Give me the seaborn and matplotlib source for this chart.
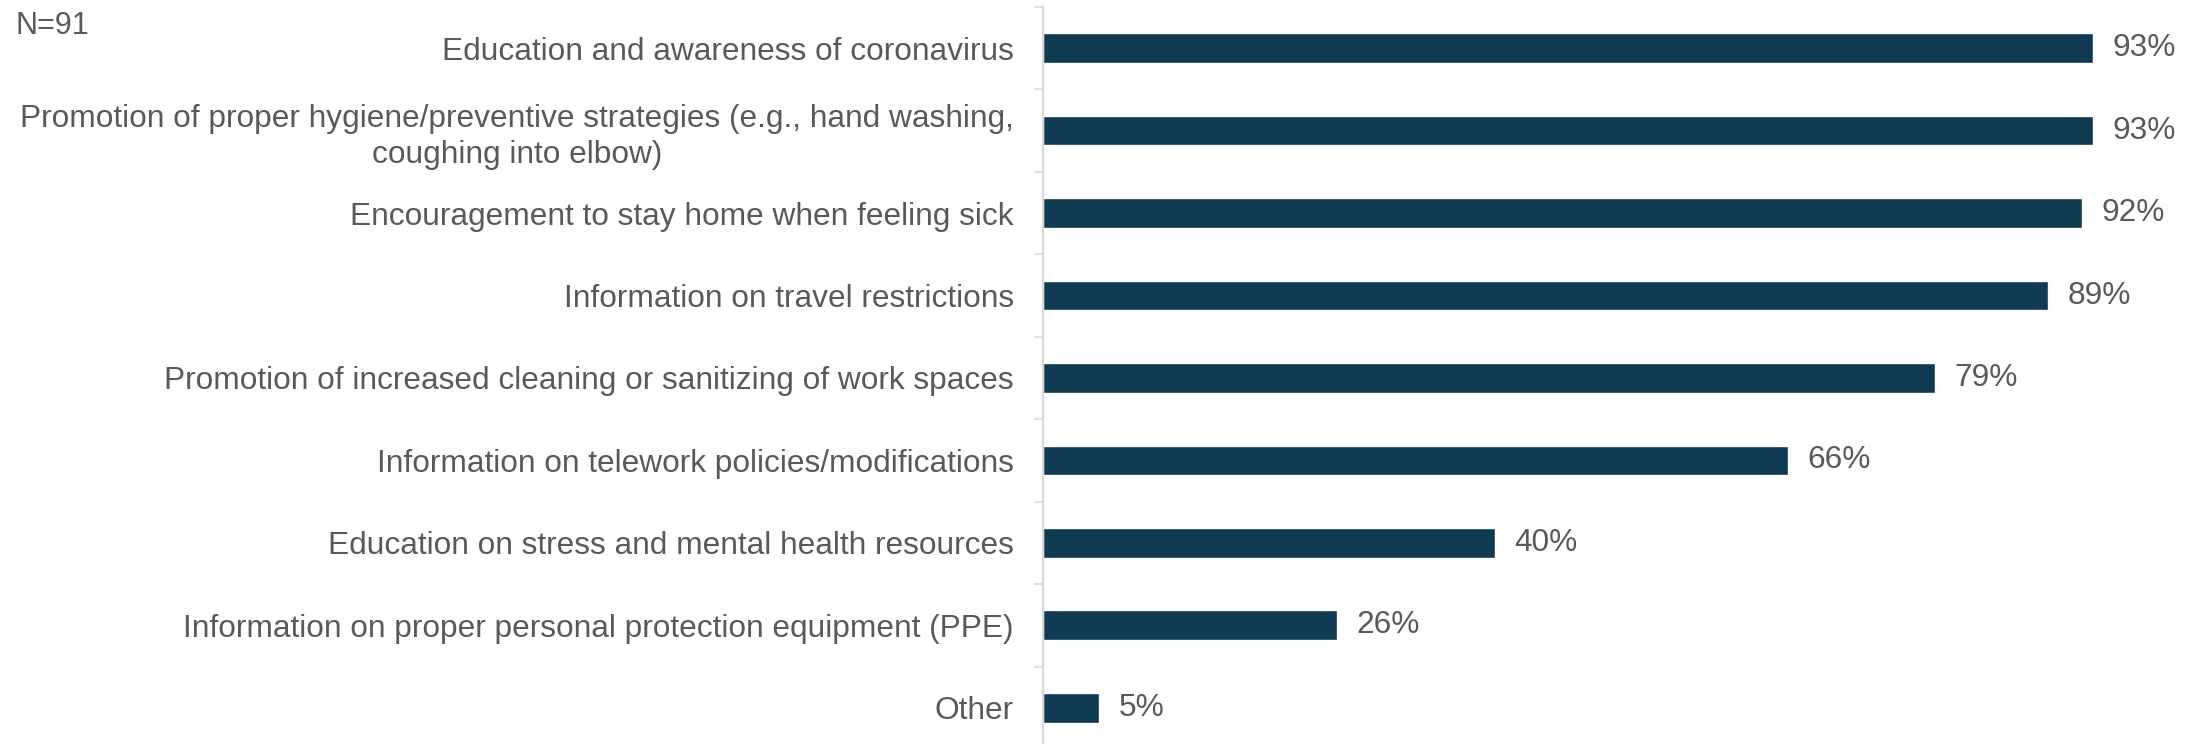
import matplotlib
matplotlib.use("Agg")
import matplotlib.pyplot as plt
import seaborn as sns
import pandas as pd
import numpy as np

categories = [
    "Education and awareness of coronavirus",
    "Promotion of proper hygiene/preventive strategies (e.g., hand washing,\ncoughing into elbow)",
    "Encouragement to stay home when feeling sick",
    "Information on travel restrictions",
    "Promotion of increased cleaning or sanitizing of work spaces",
    "Information on telework policies/modifications",
    "Education on stress and mental health resources",
    "Information on proper personal protection equipment (PPE)",
    "Other",
]
values = [93, 93, 92, 89, 79, 66, 40, 26, 5]
value_labels = ["93%", "93%", "92%", "89%", "79%", "66%", "40%", "26%", "5%"]
sample_note = "N=91"

BAR_COLOR = "#0F3A52"
TEXT_COLOR = "#595959"
AXIS_COLOR = "#D9D9D9"
FONT_SIZE = 22.8

sns.set_theme(style="white")
plt.rcParams["font.family"] = ["Liberation Sans", "DejaVu Sans"]

df = pd.DataFrame({"category": categories, "value": values})

fig = plt.figure(figsize=(21.99, 7.44), dpi=100)
ax = fig.add_axes([0.4743, -0.0067, 0.5134, 0.9973])

sns.barplot(data=df, x="value", y="category", orient="h", color=BAR_COLOR,
            width=0.36, saturation=1, ax=ax)

ax.set_xlim(0, 100)
ax.set_ylim(len(categories) - 0.5, -0.5)
ax.set_xlabel("")
ax.set_ylabel("")
ax.set_xticks([])

for s in ["top", "right", "bottom"]:
    ax.spines[s].set_visible(False)
ax.spines["left"].set_color(AXIS_COLOR)
ax.spines["left"].set_linewidth(1.6)

# category labels (no major tick marks), separators as minor ticks
ax.tick_params(axis="y", which="major", length=0, pad=21, labelsize=FONT_SIZE,
               labelcolor=TEXT_COLOR)
for lab in ax.get_yticklabels():
    lab.set_linespacing(1.25)
    lab.set_multialignment("center")
ax.set_yticks(np.arange(-0.5, len(categories) + 0.5, 1.0), minor=True)
ax.tick_params(axis="y", which="minor", length=6.5, width=1.2, color=AXIS_COLOR,
               left=True)

# value annotations
for i, (v, t) in enumerate(zip(values, value_labels)):
    ax.annotate(t, xy=(v, i), xytext=(14, 0), textcoords="offset points",
                va="center", ha="left", fontsize=FONT_SIZE, color=TEXT_COLOR)

fig.text(16 / 2199, 1 - 34 / 744, sample_note, fontsize=22, color=TEXT_COLOR,
         ha="left", va="baseline")

fig.savefig("out.png", dpi=100, facecolor="white")
